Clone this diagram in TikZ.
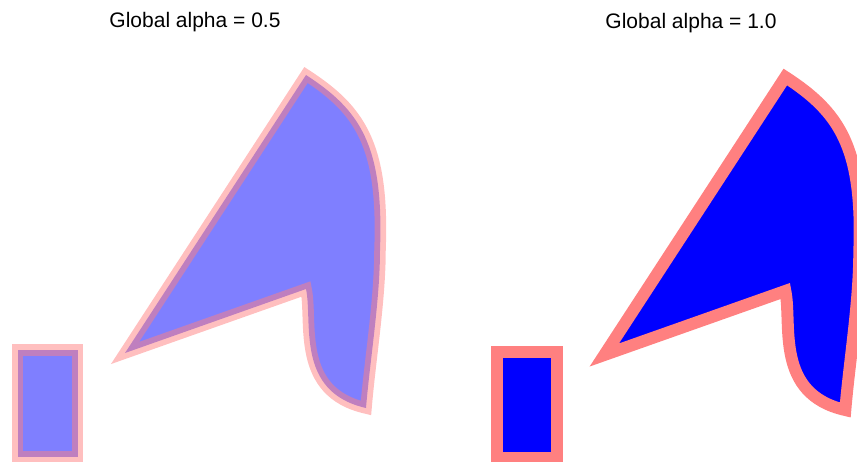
\documentclass[tikz,border=0pt]{standalone}
\usepackage{fontspec}
\setmainfont{Liberation Sans}
\definecolor{strokered}{RGB}{255,128,128}
\definecolor{fillblue}{RGB}{0,0,255}
\tikzset{
  title/.style={anchor=base, inner sep=0pt, font=\fontsize{21}{25}\selectfont},
  halfalpha/.style={draw=strokered, fill=fillblue, draw opacity=0.5, fill opacity=0.5, line width=11.5pt, line join=miter},
  fullalpha/.style={draw=strokered, fill=fillblue, line width=12pt, line join=miter},
}
\newcommand{\mycurveshape}[1]{%
  \coordinate (#1A) at (125,353);
  \coordinate (#1B) at (306,75);
  \coordinate (#1E) at (380,250);
  \coordinate (#1D) at (366,408);
  \coordinate (#1C) at (306,289);
}
\begin{document}
\begin{tikzpicture}[x=1pt,y=-1pt]
\useasboundingbox (0,0) rectangle (857,462);
% left panel
\node[title] (t1) at (195,28) {Global alpha = 0.5};
\mycurveshape{l}
\draw[halfalpha] (17.5,350) rectangle (77.5,457);
\draw[halfalpha] (lA) -- (lB) .. controls (360,110) and (384,145) .. (lE)
   .. controls (380,300) and (370,360) .. (lD)
   .. controls (295,392) and (313,322) .. (lC) -- cycle;
% right panel
\node[title] (t2) at (691,28.5) {Global alpha = 1.0};
\begin{scope}[shift={(479.3,2)}]
\mycurveshape{r}
\draw[fullalpha] (17.5,350) rectangle (77.5,456);
\draw[fullalpha] (rA) -- (rB) .. controls (360,110) and (384,145) .. (rE)
   .. controls (380,300) and (370,360) .. (rD)
   .. controls (295,392) and (313,322) .. (rC) -- cycle;
\end{scope}
\end{tikzpicture}
\end{document}
